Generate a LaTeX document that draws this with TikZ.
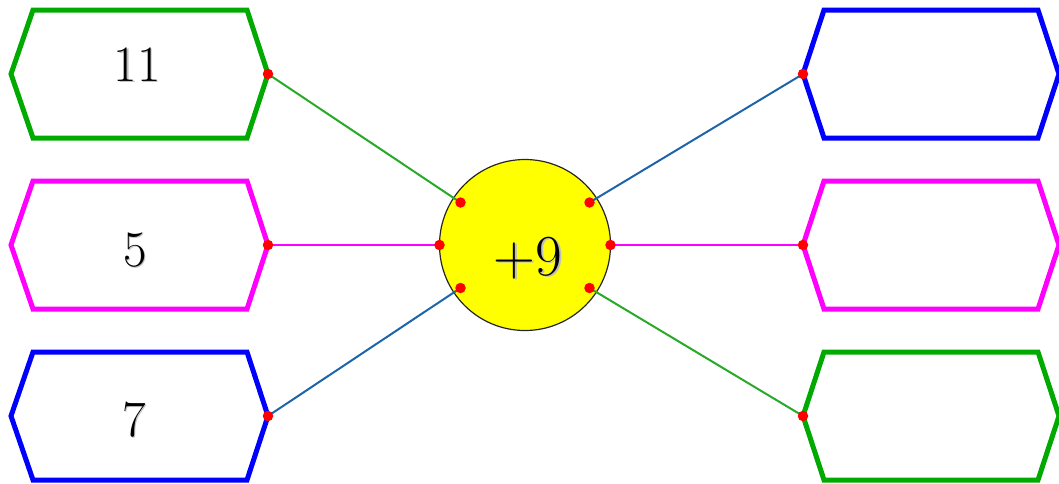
\documentclass[tikz,border=0pt]{standalone}
\usetikzlibrary{calc}
\definecolor{hgreen}{RGB}{0,170,0}
\definecolor{hmag}{RGB}{255,0,255}
\definecolor{hblue}{RGB}{0,0,255}
\definecolor{lgreen}{RGB}{40,170,40}
\definecolor{lblue}{RGB}{30,100,170}
\definecolor{cyellow}{RGB}{255,255,0}
\definecolor{dred}{RGB}{255,0,0}
\begin{document}
\begin{tikzpicture}[x=1pt,y=-1pt,
  hexbox/.style={line width=5pt, line join=miter},
  conn/.style={line width=2pt},
  dot/.style={circle,fill=dred,inner sep=0pt,minimum size=10.5pt},
  num/.style={anchor=base,inner sep=0pt,font=\fontsize{51}{51}\selectfont},
  bignum/.style={anchor=base,inner sep=0pt,font=\fontsize{58}{58}\selectfont}]
\useasboundingbox (0,0) rectangle (1059,483);
% left hexagons
\draw[hexbox,hgreen] (11,74) -- (33,10) -- (247,10) -- (268,74) -- (247,138) -- (33,138) -- cycle;
\draw[hexbox,hmag] (11,245) -- (33,181) -- (247,181) -- (268,245) -- (247,309) -- (33,309) -- cycle;
\draw[hexbox,hblue] (11,416) -- (33,352) -- (247,352) -- (268,416) -- (247,480) -- (33,480) -- cycle;
% right hexagons
\draw[hexbox,hblue] (803,74) -- (824,10) -- (1038,10) -- (1059,74) -- (1038,138) -- (824,138) -- cycle;
\draw[hexbox,hmag] (803,245) -- (824,181) -- (1038,181) -- (1059,245) -- (1038,309) -- (824,309) -- cycle;
\draw[hexbox,hgreen] (803,416) -- (824,352) -- (1038,352) -- (1059,416) -- (1038,480) -- (824,480) -- cycle;
% connection points
\coordinate (L1) at (268,74);
\coordinate (L2) at (268,245);
\coordinate (L3) at (268,416);
\coordinate (R1) at (803,74);
\coordinate (R2) at (803,245);
\coordinate (R3) at (803,416);
\coordinate (CL1) at (460.5,202.5);
\coordinate (CL2) at (439.5,245);
\coordinate (CL3) at (460.5,288);
\coordinate (CR1) at (589.5,202.5);
\coordinate (CR2) at (610.5,245);
\coordinate (CR3) at (589.5,288);
% circle
\node[circle,draw=black!85,fill=cyellow,line width=1.2pt,minimum size=171pt,inner sep=0pt] (c) at (525,245) {};
% connectors
\draw[conn,lgreen] (L1) -- (CL1);
\draw[conn,hmag] (L2) -- (CL2);
\draw[conn,lblue] (L3) -- (CL3);
\draw[conn,lblue] (CR1) -- (R1);
\draw[conn,hmag] (CR2) -- (R2);
\draw[conn,lgreen] (CR3) -- (R3);
% dots
\foreach \p in {L1,L2,L3,R1,R2,R3,CL1,CL2,CL3,CR1,CR2,CR3}
  \node[dot] at (\p) {};
% texts
\node[num,text=black!25] at (138.5,82.5) {11};
\node[num] (t1) at (137,81) {11};
\node[num,text=black!25] at (136.5,267.5) {5};
\node[num] (t2) at (135,266) {5};
\node[num,text=black!25] at (135.5,437.5) {7};
\node[num] (t3) at (134,436) {7};
\node[bignum,text=black!25] at (529.5,276.5) {+9};
\node[bignum] (t4) at (528,275) {+9};
\end{tikzpicture}
\end{document}
